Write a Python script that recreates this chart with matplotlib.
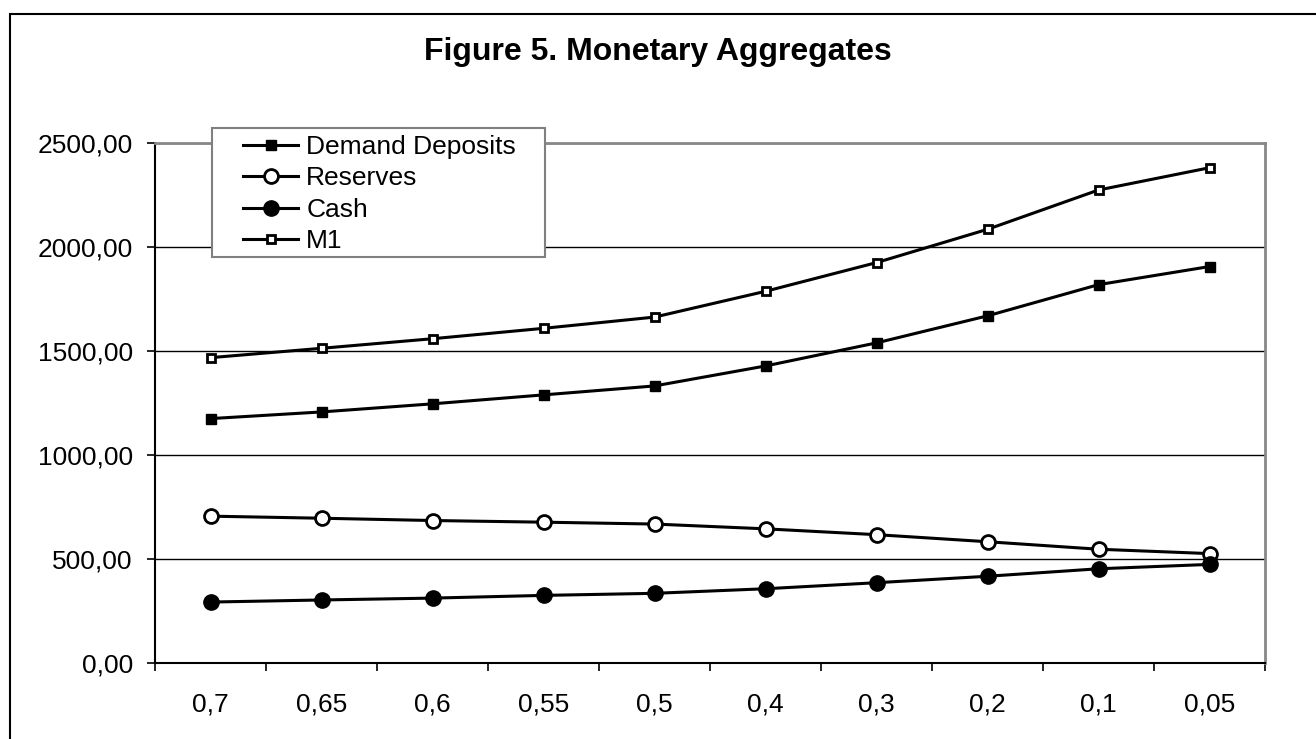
import matplotlib
matplotlib.use("Agg")
import matplotlib.pyplot as plt
from matplotlib.patches import Rectangle

# values
categories = ["0,7", "0,65", "0,6", "0,55", "0,5", "0,4", "0,3", "0,2", "0,1", "0,05"]
demand_deposits = [1175, 1207, 1246, 1289, 1332, 1428, 1539, 1669, 1819, 1906]
reserves = [706, 696, 685, 677, 668, 645, 617, 583, 547, 526]
cash = [293, 303, 312, 325, 335, 357, 386, 417, 453, 474]
m1 = [1468, 1513, 1559, 1609, 1663, 1787, 1925, 2085, 2274, 2381]
y_ticks = [0, 500, 1000, 1500, 2000, 2500]

plt.rcParams["font.family"] = ["Liberation Sans", "DejaVu Sans"]

fig = plt.figure(figsize=(13.16, 7.39), dpi=100)
ax = fig.add_axes([155 / 1316, 76 / 739, 1110 / 1316, 520 / 739])

x = list(range(len(categories)))
ax.plot(x, demand_deposits, color="black", lw=2.2, marker="s", ms=7.5,
        mfc="black", mec="black", label="Demand Deposits", zorder=4)
ax.plot(x, reserves, color="black", lw=2.2, marker="o", ms=10,
        mfc="white", mec="black", mew=2, label="Reserves", zorder=4)
ax.plot(x, cash, color="black", lw=2.2, marker="o", ms=11,
        mfc="black", mec="black", label="Cash", zorder=4)
ax.plot(x, m1, color="black", lw=2.2, marker="s", ms=6,
        mfc="white", mec="black", mew=2, label="M1", zorder=4)

ax.set_xlim(-0.5, len(categories) - 0.5)
ax.set_ylim(0, 2500)
ax.set_yticks(y_ticks)
ax.set_yticklabels([f"{v:.2f}".replace(".", ",") for v in y_ticks])
ax.yaxis.grid(True, color="black", lw=1)
ax.set_axisbelow(True)

# category labels at centres, tick marks at the boundaries
ax.set_xticks(x)
ax.set_xticklabels(categories)
ax.set_xticks([i - 0.5 for i in range(len(categories) + 1)], minor=True)
ax.tick_params(axis="x", which="major", length=0, pad=21, labelsize=19)
ax.tick_params(axis="x", which="minor", length=6, width=1.2, direction="out")
ax.tick_params(axis="y", length=6, width=1.2, direction="out", pad=10, labelsize=19)

for side in ["left", "bottom"]:
    ax.spines[side].set_color("black")
    ax.spines[side].set_linewidth(1.5)
for side in ["top", "right"]:
    ax.spines[side].set_color("#888888")
    ax.spines[side].set_linewidth(2)

fig.text(0.5, 0.929, "Figure 5. Monetary Aggregates", ha="center", va="center",
         fontsize=23, fontweight="bold")

# legend box drawn separately so its padding matches the original
fig.patches.append(Rectangle((212 / 1316, 1 - 257 / 739), 333 / 1316, 129 / 739,
                             transform=fig.transFigure, facecolor="white",
                             edgecolor="#808080", lw=1.5, zorder=9))
handles, labels = ax.get_legend_handles_labels()
leg = fig.legend(handles, labels, loc="upper left",
                 bbox_to_anchor=(243 / 1316, 1 - 135 / 739),
                 bbox_transform=fig.transFigure, fontsize=19, frameon=False,
                 borderaxespad=0, borderpad=0, handlelength=2.1,
                 handletextpad=0.3, labelspacing=0.28)
leg.set_zorder(10)

# outer chart border
fig.patches.append(Rectangle((9.5 / 1316, -0.05), 1.1, 1.05 - 14 / 739,
                             transform=fig.transFigure, fill=False,
                             edgecolor="black", lw=1.5))

fig.savefig("out.png", dpi=100)
